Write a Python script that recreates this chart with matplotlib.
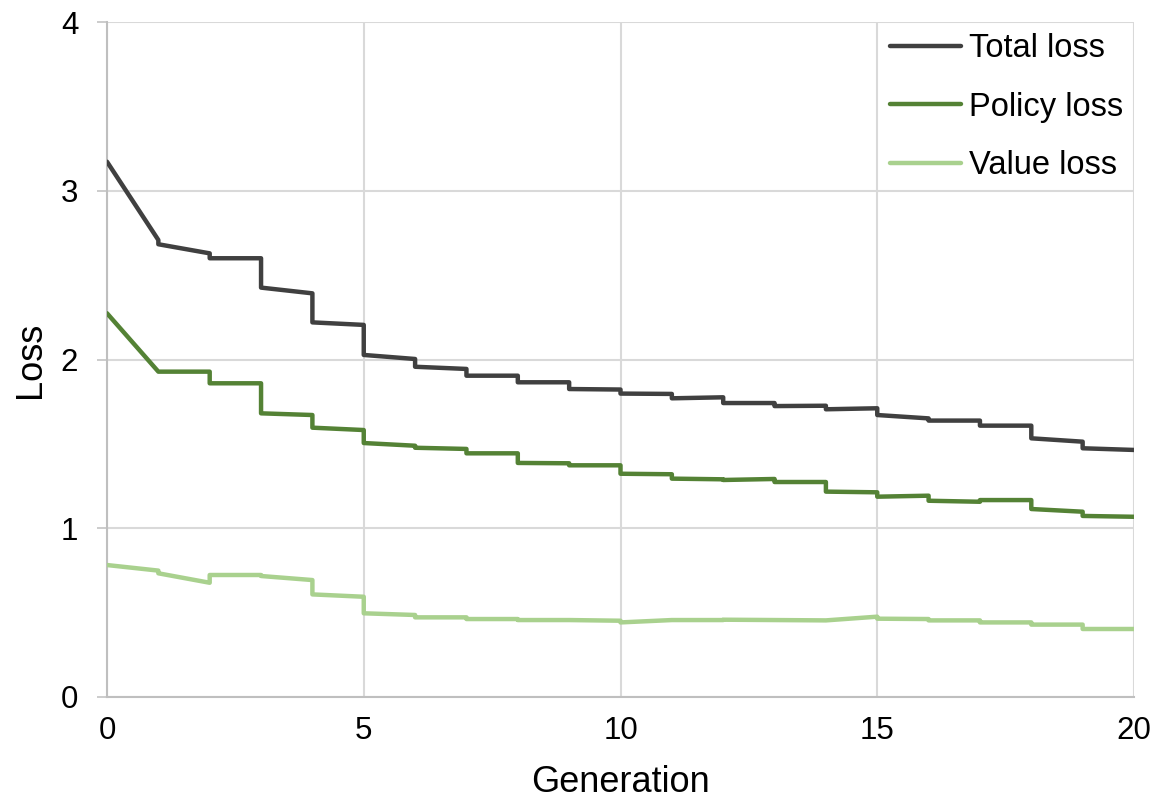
import numpy as np
import matplotlib
matplotlib.use("Agg")
import matplotlib.pyplot as plt

plt.rcParams['font.family'] = ['Liberation Sans', 'DejaVu Sans']

# each generation: value at its start and value at its end
generations = list(range(20))

total_start = [3.172, 2.683, 2.600, 2.426, 2.220, 2.027, 1.957, 1.904, 1.865, 1.825,
               1.798, 1.770, 1.742, 1.724, 1.705, 1.671, 1.638, 1.608, 1.533, 1.474]
total_end = [2.708, 2.629, 2.600, 2.392, 2.205, 2.003, 1.944, 1.904, 1.865, 1.822,
             1.796, 1.776, 1.742, 1.726, 1.711, 1.651, 1.638, 1.608, 1.513, 1.464]

policy_start = [2.274, 1.928, 1.859, 1.681, 1.596, 1.505, 1.477, 1.444, 1.387, 1.373,
                1.323, 1.294, 1.286, 1.274, 1.217, 1.187, 1.163, 1.167, 1.114, 1.073]
policy_end = [1.928, 1.928, 1.859, 1.671, 1.582, 1.489, 1.470, 1.444, 1.385, 1.373,
              1.320, 1.290, 1.292, 1.274, 1.213, 1.193, 1.157, 1.167, 1.098, 1.068]

value_start = [0.782, 0.733, 0.723, 0.717, 0.608, 0.496, 0.472, 0.462, 0.456, 0.456,
               0.442, 0.456, 0.458, 0.456, 0.454, 0.464, 0.454, 0.442, 0.429, 0.403]
value_end = [0.749, 0.677, 0.723, 0.693, 0.594, 0.486, 0.472, 0.462, 0.456, 0.452,
             0.456, 0.456, 0.456, 0.454, 0.476, 0.462, 0.454, 0.442, 0.429, 0.403]

labels = ["Total loss", "Policy loss", "Value loss"]
colors = ["#404040", "#548235", "#A9D18E"]


def steps(start, end):
    xs, ys = [], []
    for g, s, e in zip(generations, start, end):
        xs += [g, g + 1]
        ys += [s, e]
    return xs, ys


W, H = 1158, 810
fig = plt.figure(figsize=(W / 100, H / 100), dpi=100)
ax = fig.add_axes([107 / W, (H - 697) / H, (1134 - 107) / W, (697 - 22) / H])

series = [(total_start, total_end), (policy_start, policy_end), (value_start, value_end)]
for (s, e), lab, c in zip(series, labels, colors):
    xs, ys = steps(s, e)
    ax.plot(xs, ys, color=c, lw=3.2, label=lab, solid_joinstyle='round',
            solid_capstyle='round', zorder=3)

ax.set_xlim(0, 20)
ax.set_ylim(0, 4)
ax.set_xticks([0, 5, 10, 15, 20])
ax.set_yticks([0, 1, 2, 3, 4])
ax.grid(True, color="#D9D9D9", lw=1.5, zorder=0)
ax.set_axisbelow(True)
for sp in ["top", "right"]:
    ax.spines[sp].set_visible(False)
for sp in ["left", "bottom"]:
    ax.spines[sp].set_color("#BFBFBF")
    ax.spines[sp].set_linewidth(1.5)
ax.tick_params(axis='y', length=7.2, width=1.1, color="#BFBFBF", labelsize=22.5, pad=13.5)
ax.tick_params(axis='x', length=0, labelsize=22.5, pad=13.7)

ax.set_xlabel("Generation", fontsize=26)
ax.set_ylabel("Loss", fontsize=26)
ax.xaxis.set_label_coords(0.5, -0.1)
ax.yaxis.set_label_coords(-0.057, 0.5)

ax.legend(loc='upper right', bbox_to_anchor=(1.008, 1.012), frameon=False, fontsize=23.5,
          handlelength=2.2, handletextpad=0.22, labelspacing=0.84, borderaxespad=0.2)

fig.savefig("out.png", dpi=100)
